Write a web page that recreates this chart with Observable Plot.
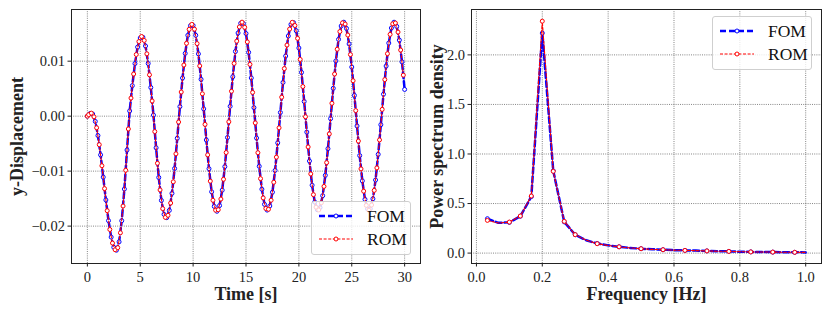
<!DOCTYPE html>
<html>
<head>
<meta charset="utf-8">
<script src="https://cdn.jsdelivr.net/npm/d3@7"></script>
<script src="https://cdn.jsdelivr.net/npm/@observablehq/plot@0.6"></script>
<style>
  html, body { margin: 0; padding: 0; background: #fff; }
  #wrap { position: relative; width: 830px; height: 312px; display: flex; font-family: "Liberation Serif", serif; }
  #wrap svg { display: block; font-family: "Liberation Serif", serif; }
  #wrap svg text { font-family: "Liberation Serif", serif; }
  #wrap svg g[aria-label="x-axis tick label"], #wrap svg g[aria-label="y-axis tick label"] { font-size: 14.5px; }
  g[aria-label="x-axis label"] text, g[aria-label="y-axis label"] text,
  g[aria-label="x-axis label"], g[aria-label="y-axis label"] { font-weight: bold; font-size: 18px; }
  .legend { position: absolute; width: 100px; height: 54px; box-sizing: border-box;
            background: rgba(255,255,255,0.8); border: 1px solid #cfcfcf; border-radius: 3px; }
  .legend .row { position: absolute; left: 0; height: 16px; width: 100%; }
  .legend .row svg { position: absolute; left: 5px; top: 0; }
  .legend .row span { position: absolute; left: 55px; top: -2px; font-size: 17.5px; color: #111; font-family: "Liberation Serif", serif; line-height: 20px; }
</style>
</head>
<body>
<div id="wrap"></div>
<script>
// ---------------- data: left panel (time history) ----------------
const seriesNames = ["FOM", "ROM"];

const fomTime = [0,0.25,0.5,0.75,1,1.25,1.5,1.75,2,2.25,2.5,2.75,3,3.25,3.5,3.75,4,4.25,4.5,4.75,5,5.25,5.5,5.75,6,6.25,6.5,6.75,7,7.25,7.5,7.75,8,8.25,8.5,8.75,9,9.25,9.5,9.75,10,10.25,10.5,10.75,11,11.25,11.5,11.75,12,12.25,12.5,12.75,13,13.25,13.5,13.75,14,14.25,14.5,14.75,15,15.25,15.5,15.75,16,16.25,16.5,16.75,17,17.25,17.5,17.75,18,18.25,18.5,18.75,19,19.25,19.5,19.75,20,20.25,20.5,20.75,21,21.25,21.5,21.75,22,22.25,22.5,22.75,23,23.25,23.5,23.75,24,24.25,24.5,24.75,25,25.25,25.5,25.75,26,26.25,26.5,26.75,27,27.25,27.5,27.75,28,28.25,28.5,28.75,29,29.25,29.5,29.75,30];

const fomDisp = [0,0.00047,0.00039,-0.00096,-0.00353,-0.00704,-0.01109,-0.01524,-0.01901,-0.022,-0.02386,-0.02438,-0.02286,-0.01902,-0.01326,-0.00616,0.00095,0.00555,0.00956,0.01256,0.01422,0.01435,0.01276,0.00958,0.00522,0.0002,-0.00576,-0.01115,-0.01533,-0.01786,-0.01846,-0.01714,-0.01405,-0.00952,-0.00402,0.00173,0.00694,0.01142,0.01471,0.01646,0.01649,0.01471,0.01133,0.0067,0.00133,-0.00433,-0.00956,-0.01375,-0.01642,-0.0173,-0.01627,-0.01346,-0.00918,-0.00388,
0.00179,0.00716,0.01177,0.01513,0.01689,0.01685,0.01503,0.01161,0.00695,0.00156,-0.00399,-0.00912,-0.01329,-0.01604,-0.01709,-0.01633,-0.01383,-0.00987,-0.00486,0.00067,0.00613,0.01093,0.01458,0.01668,0.01701,0.01553,0.0124,0.00796,0.00267,-0.0029,-0.00816,-0.01256,-0.01562,-0.01703,-0.01663,-0.01446,-0.01076,-0.00592,-0.00045,0.00507,0.01005,0.01396,0.0164,0.01709,0.01596,0.01314,0.00893,0.00377,-0.00179,-0.00716,-0.01177,-0.01513,-0.01689,-0.01685,-0.01503,-0.01161,-0.00695,-0.00156,0.00399,0.00912,0.01329,0.01604,0.01709,0.01633,0.01383,0.00987,0.00486];

const romTime = [0,0.125,0.375,0.625,0.875,1.125,1.375,1.625,1.875,2.125,2.375,2.625,2.875,3.125,3.375,3.625,3.875,4.125,4.375,4.625,4.875,5.125,5.375,5.625,5.875,6.125,6.375,6.625,6.875,7.125,7.375,7.625,7.875,8.125,8.375,8.625,8.875,9.125,9.375,9.625,9.875,10.125,10.375,10.625,10.875,11.125,11.375,11.625,11.875,12.125,12.375,12.625,12.875,13.125,13.375,13.625,13.875,14.125,14.375,14.625,14.875,15.125,15.375,15.625,15.875,16.125,16.375,16.625,16.875,17.125,17.375,17.625,17.875,18.125,18.375,18.625,18.875,19.125,19.375,19.625,19.875,20.125,20.375,20.625,20.875,21.125,21.375,21.625,21.875,22.125,22.375,22.625,22.875,23.125,23.375,23.625,23.875,24.125,24.375,24.625,24.875,25.125,25.375,25.625,25.875,26.125,26.375,26.625,26.875,27.125,27.375,27.625,27.875,28.125,28.375,28.625,28.875,29.125,29.375,29.625,29.875];

const romDisp = [0,0.00027,0.00055,-0.00012,-0.00211,-0.00519,-0.00902,-0.01318,-0.0172,-0.02062,-0.02309,-0.0243,-0.02392,-0.02121,-0.01635,-0.00984,-0.00233,0.00329,0.00766,0.01121,0.01357,0.01449,0.01377,0.01134,0.00752,0.00276,-0.0028,-0.00857,-0.01342,-0.01682,-0.01841,-0.01803,-0.0158,-0.01194,-0.00686,-0.00107,0.00439,0.0093,0.01324,0.01579,0.0167,0.01582,0.0132,0.00914,0.00407,-0.0015,-0.00704,-0.01182,-0.0153,-0.0171,-0.01702,-0.01508,-0.01148,-0.00662,-0.00103,
0.00453,0.00959,0.01364,0.01623,0.0171,0.01616,0.0135,0.00941,0.00432,-0.00123,-0.00665,-0.01136,-0.01487,-0.01679,-0.01694,-0.01529,-0.01202,-0.00746,-0.00212,0.00345,0.00865,0.01293,0.01584,0.01707,0.01649,0.01415,0.01032,0.00539,-0.00011,-0.0056,-0.0105,-0.01428,-0.01655,-0.01706,-0.01575,-0.01278,-0.00845,-0.00323,0.00234,0.00766,0.01217,0.01539,0.01697,0.01675,0.01475,0.0112,0.00644,0.00101,-0.00453,-0.00959,-0.01364,-0.01623,-0.0171,-0.01616,-0.0135,-0.00941,-0.00432,0.00123,0.00665,0.01136,0.01487,0.01679,0.01694,0.01529,0.01202,0.00746];

const timeTicks = [0, 5, 10, 15, 20, 25, 30];
const dispTicks = [-0.02, -0.01, 0.00, 0.01];

// ---------------- data: right panel (PSD) ----------------
const freq = [0.0333,0.0667,0.1,0.1333,0.1667,0.2,0.2333,0.2667,0.3,0.3333,0.3667,0.4,0.4333,0.4667,0.5,0.5333,0.5667,0.6,0.6333,0.6667,0.7,0.7333,0.7667,0.8,0.8333,0.8667,0.9,0.9333,0.9667,1.0];
const fomPsd = [0.347,0.305,0.31,0.372,0.57,2.22,0.83,0.315,0.185,0.13,0.097,0.078,0.064,0.052,0.044,0.039,0.034,0.03,0.027,0.025,0.022,0.019,0.017,0.014,0.012,0.011,0.01,0.009,0.008,0.007];
const romPsd = [0.33,0.303,0.313,0.374,0.576,2.34,0.825,0.32,0.186,0.13,0.095,0.077,0.063,0.052,0.044,0.038,0.034,0.03,0.027,0.025,0.022,0.019,0.017,0.014,0.012,0.011,0.01,0.009,0.008,0.007];
const psdMarkedIndex = [0,2,3,4,5,6,7,8,10,12,14,16,18,20,22,24,26,28];
const freqTicks = [0, 0.2, 0.4, 0.6, 0.8, 1.0];
const psdTicks = [0, 0.5, 1.0, 1.5, 2.0];

// ---------------- build tables ----------------
const fomHist = fomTime.map((t, i) => ({t, v: fomDisp[i]}));
const romHist = romTime.map((t, i) => ({t, v: romDisp[i]}));
const fomSpec = freq.map((f, i) => ({f, v: fomPsd[i]}));
const romSpec = freq.map((f, i) => ({f, v: romPsd[i]}));
const fomSpecMarked = psdMarkedIndex.map(i => fomSpec[i]);
const romSpecMarked = psdMarkedIndex.map(i => romSpec[i]);

const FOM_STYLE = {stroke: "#0000ff", strokeWidth: 2.5, strokeDasharray: "6,3"};
const ROM_STYLE = {stroke: "#ff0000", strokeWidth: 1.1, strokeDasharray: "3,1.6"};
const GRID = {stroke: "#333", strokeOpacity: 0.85, strokeWidth: 0.7, strokeDasharray: "1,1.2"};
const baseStyle = {fontFamily: "'Liberation Serif', serif", fontSize: "14.5px", color: "#222", background: "transparent", overflow: "visible"};

const left = Plot.plot({
  width: 421, height: 312,
  marginLeft: 71, marginRight: 1, marginTop: 9, marginBottom: 49,
  style: baseStyle,
  x: {domain: [-1.5, 31.5], ticks: timeTicks, tickFormat: d3.format("d"), tickSize: 3.5, tickPadding: 4.5,
      label: "Time [s]", labelAnchor: "center", labelArrow: "none", labelOffset: 36},
  y: {domain: [-0.0268, 0.0194], ticks: dispTicks, tickFormat: d3.format(".2f"), tickSize: 3.5, tickPadding: 3,
      label: "y-Displacement", labelAnchor: "center", labelArrow: "none", labelOffset: 61},
  marks: [
    Plot.gridX(timeTicks, GRID),
    Plot.gridY(dispTicks, GRID),
    Plot.line(fomHist, {x: "t", y: "v", ...FOM_STYLE}),
    Plot.dot(fomHist, {x: "t", y: "v", r: 2, stroke: "#0000ff", strokeWidth: 1, fill: "white"}),
    Plot.line(romHist, {x: "t", y: "v", ...ROM_STYLE}),
    Plot.dot(romHist, {x: "t", y: "v", r: 2, stroke: "#ff0000", strokeWidth: 1, fill: "white"}),
    Plot.frame({stroke: "#222", strokeWidth: 1})
  ]
});

const right = Plot.plot({
  width: 409, height: 312,
  marginLeft: 50, marginRight: 9, marginTop: 9, marginBottom: 49,
  style: baseStyle,
  x: {domain: [-0.015, 1.048], ticks: freqTicks, tickFormat: d3.format(".1f"), tickSize: 3.5, tickPadding: 4.5,
      label: "Frequency [Hz]", labelAnchor: "center", labelArrow: "none", labelOffset: 36},
  y: {domain: [-0.105, 2.458], ticks: psdTicks, tickFormat: d3.format(".1f"), tickSize: 3.5, tickPadding: 3,
      label: "Power spectrum density", labelAnchor: "center", labelArrow: "none", labelOffset: 41},
  marks: [
    Plot.gridX(freqTicks, GRID),
    Plot.gridY(psdTicks, GRID),
    Plot.line(fomSpec, {x: "f", y: "v", ...FOM_STYLE}),
    Plot.dot(fomSpecMarked, {x: "f", y: "v", r: 2, stroke: "#0000ff", strokeWidth: 1, fill: "white"}),
    Plot.line(romSpec, {x: "f", y: "v", ...ROM_STYLE}),
    Plot.dot(romSpecMarked, {x: "f", y: "v", r: 2, stroke: "#ff0000", strokeWidth: 1, fill: "white"}),
    Plot.frame({stroke: "#222", strokeWidth: 1})
  ]
});

const wrap = document.getElementById("wrap");
wrap.appendChild(left);
wrap.appendChild(right);

// ---------------- legends ----------------
function legend(leftPx, topPx) {
  const box = document.createElement("div");
  box.className = "legend";
  box.style.left = leftPx + "px";
  box.style.top = topPx + "px";
  const styles = [FOM_STYLE, ROM_STYLE];
  const rowTops = [6, 29];
  seriesNames.forEach((name, i) => {
    const s = styles[i];
    const row = document.createElement("div");
    row.className = "row";
    row.style.top = rowTops[i] + "px";
    row.innerHTML =
      `<svg width="40" height="16"><line x1="2" x2="36" y1="8" y2="8" stroke="${s.stroke}" stroke-width="${s.strokeWidth}" stroke-dasharray="${s.strokeDasharray}"/>` +
      `<circle cx="19" cy="8" r="2" fill="white" stroke="${s.stroke}" stroke-width="1"/></svg>` +
      `<span>${name}</span>`;
    box.appendChild(row);
  });
  wrap.appendChild(box);
}
legend(311, 201);
legend(712, 16);
</script>
</body>
</html>
